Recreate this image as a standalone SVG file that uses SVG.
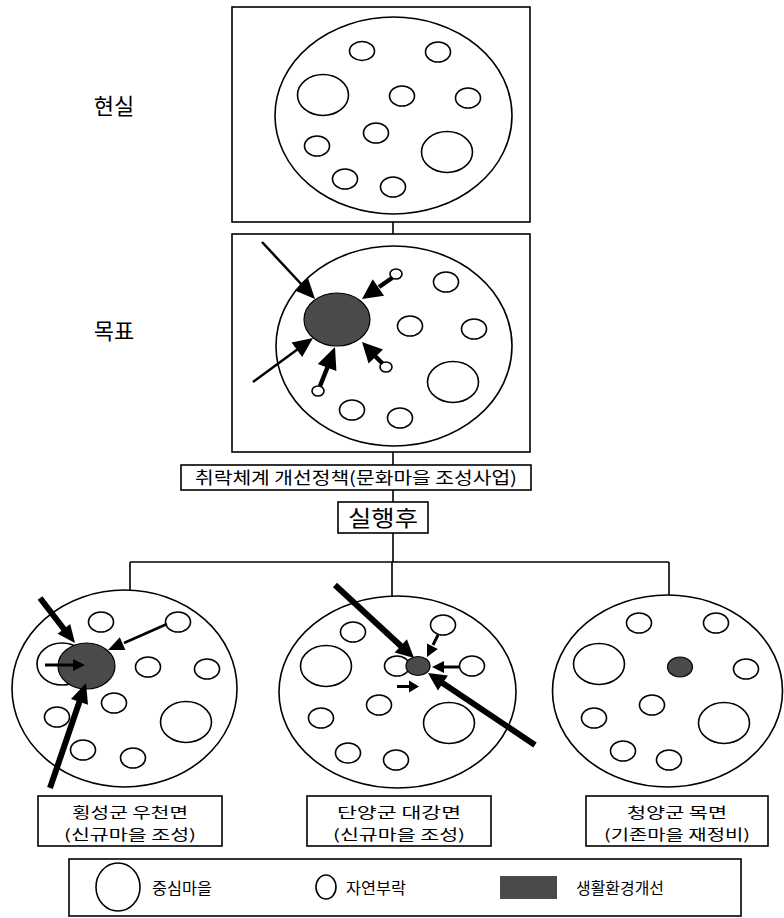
<svg xmlns="http://www.w3.org/2000/svg" width="784" height="918" viewBox="0 0 784 918">
<style>
  .frame{fill:none;stroke:#000;stroke-width:1.6}
  .big{fill:#fff;stroke:#000;stroke-width:1.6}
  .c{fill:#fff;stroke:#000;stroke-width:1.6}
  .dark{fill:#4a4a4a;stroke:#000;stroke-width:1.2}
  .ln{stroke:#000;stroke-width:1.6;fill:none}
  .thin{stroke:#000;stroke-width:2.5;fill:none}
  .med{stroke:#000;stroke-width:3;fill:none}
  .mthick{stroke:#000;stroke-width:4.5;fill:none}
  .thick{stroke:#000;stroke-width:6;fill:none}
  .head{fill:#000}
  text{font-family:"Noto Sans CJK KR","Noto Sans",sans-serif;fill:#000}
  .side{font-size:22px;text-anchor:middle}
  .lab{font-size:17px;text-anchor:middle}
  .lab2{font-size:14.5px;text-anchor:middle}
  .leg{font-size:16px}
</style>
<rect width="784" height="918" fill="#fff"/>

<g id="connectors">
  <line class="ln" x1="393" y1="222" x2="393" y2="234"/>
  <line class="ln" x1="393" y1="452" x2="393" y2="465"/>
  <line class="ln" x1="393" y1="490" x2="393" y2="502"/>
  <line class="ln" x1="393" y1="533" x2="393" y2="562"/>
  <line class="ln" x1="130" y1="562" x2="669" y2="562"/>
  <line class="ln" x1="130" y1="562" x2="130" y2="590"/>
  <line class="ln" x1="392" y1="562" x2="392" y2="596"/>
  <line class="ln" x1="669" y1="562" x2="669" y2="595"/>
</g>

<g id="label-reality"><text class="side" x="114" y="114">현실</text></g>
<g id="label-goal"><text class="side" x="114" y="339">목표</text></g>

<g id="reality">
  <rect class="frame" x="232" y="7" width="298" height="215"/>
  <ellipse class="big" cx="393.5" cy="115.5" rx="118.5" ry="98.5"/>
  <ellipse class="c" cx="362" cy="51" rx="12.5" ry="9.5"/>
  <ellipse class="c" cx="438" cy="52" rx="12.5" ry="10"/>
  <ellipse class="c" cx="323" cy="95" rx="25.5" ry="20.5"/>
  <ellipse class="c" cx="402" cy="96" rx="12.5" ry="10"/>
  <ellipse class="c" cx="468" cy="98" rx="12.5" ry="10"/>
  <ellipse class="c" cx="376" cy="133" rx="12.5" ry="10"/>
  <ellipse class="c" cx="317" cy="146" rx="12.5" ry="10"/>
  <ellipse class="c" cx="447" cy="152" rx="25.5" ry="20.5"/>
  <ellipse class="c" cx="345" cy="179" rx="12.5" ry="10"/>
  <ellipse class="c" cx="393" cy="187" rx="12.5" ry="10"/>
</g>

<g id="goal">
  <rect class="frame" x="232" y="234" width="298" height="218"/>
  <ellipse class="big" cx="394" cy="346" rx="118" ry="100"/>
  <ellipse class="c" cx="446" cy="282" rx="12.5" ry="10"/>
  <ellipse class="c" cx="410" cy="326" rx="12.5" ry="10"/>
  <ellipse class="c" cx="474" cy="329" rx="12.5" ry="10"/>
  <ellipse class="c" cx="453" cy="382" rx="25.5" ry="20.5"/>
  <ellipse class="c" cx="352" cy="410" rx="12.5" ry="10"/>
  <ellipse class="c" cx="400" cy="418" rx="12.5" ry="10"/>
  <ellipse class="dark" cx="337" cy="319.5" rx="33" ry="26.5"/>
  <line class="thin" x1="262" y1="242" x2="303" y2="286"/>
  <polygon class="head" points="315,299 294.8,290.4 308,278.2"/>
  <line class="thin" x1="253" y1="382" x2="298" y2="349"/>
  <polygon class="head" points="313,338 302.2,357.1 291.6,342.5"/>
  <line class="mthick" x1="392" y1="278" x2="379" y2="287"/>
  <polygon class="head" points="362,299 372.7,279.3 384.1,295.7"/>
  <line class="mthick" x1="383" y1="364" x2="375" y2="356"/>
  <polygon class="head" points="362,342 383,349.6 368.6,363.4"/>
  <line class="mthick" x1="320" y1="386" x2="328" y2="366"/>
  <polygon class="head" points="335,347 336.4,371.1 317.8,363.9"/>
  <ellipse class="c" cx="396" cy="274" rx="6" ry="5"/>
  <ellipse class="c" cx="386" cy="367" rx="6" ry="5"/>
  <ellipse class="c" cx="318" cy="391" rx="6" ry="5"/>
</g>

<g id="policy">
  <rect class="frame" x="181" y="465" width="350" height="25"/>
  <text class="lab" x="356" y="484" textLength="322" lengthAdjust="spacingAndGlyphs">취락체계 개선정책(문화마을 조성사업)</text>
</g>

<g id="after">
  <rect class="frame" x="338" y="502" width="90" height="31"/>
  <text x="383" y="526" font-size="22" text-anchor="middle" textLength="70" lengthAdjust="spacingAndGlyphs">실행후</text>
</g>

<g id="hoengseong">
  <ellipse class="big" cx="124.5" cy="688.5" rx="112.5" ry="98.5"/>
  <ellipse class="c" cx="101" cy="622" rx="12.5" ry="10"/>
  <ellipse class="c" cx="178" cy="622" rx="12.5" ry="10"/>
  <ellipse class="c" cx="148" cy="667" rx="12.5" ry="10"/>
  <ellipse class="c" cx="207" cy="669" rx="12.5" ry="10"/>
  <ellipse class="c" cx="114" cy="703" rx="12.5" ry="10"/>
  <ellipse class="c" cx="57" cy="717" rx="12.5" ry="10"/>
  <ellipse class="c" cx="186" cy="722" rx="25.5" ry="20.5"/>
  <ellipse class="c" cx="83" cy="750" rx="12.5" ry="10"/>
  <ellipse class="c" cx="133" cy="758" rx="12.5" ry="10"/>
  <ellipse class="c" cx="62" cy="664" rx="25" ry="21"/>
  <ellipse class="dark" cx="86.5" cy="666" rx="28.5" ry="23"/>
  <line class="thick" x1="40" y1="598" x2="65" y2="630.5"/>
  <polygon class="head" points="75,643 57.6,633.7 70.2,623.9"/>
  <line class="thin" x1="167" y1="624" x2="124" y2="643"/>
  <polygon class="head" points="108,650 119.8,637.2 125.4,650"/>
  <line class="med" x1="45" y1="665" x2="74" y2="665"/>
  <polygon class="head" points="85,665 73,659 73,671"/>
  <line class="thick" x1="50" y1="788" x2="80" y2="700"/>
  <polygon class="head" points="86,683 88,704.8 71,699"/>
  <rect class="frame" x="38" y="796" width="184" height="50"/>
  <text class="lab2" x="130" y="818" textLength="116" lengthAdjust="spacingAndGlyphs">횡성군 우천면</text>
  <text class="lab2" x="130" y="840" textLength="132" lengthAdjust="spacingAndGlyphs">(신규마을 조성)</text>
</g>

<g id="danyang">
  <ellipse class="big" cx="397.5" cy="692" rx="118.5" ry="96"/>
  <ellipse class="c" cx="353" cy="632" rx="12.5" ry="10"/>
  <ellipse class="c" cx="326" cy="666" rx="25.5" ry="20.5"/>
  <ellipse class="c" cx="443" cy="625" rx="12.5" ry="10"/>
  <ellipse class="c" cx="472" cy="666" rx="12.5" ry="10"/>
  <ellipse class="c" cx="397" cy="666" rx="12.5" ry="10"/>
  <ellipse class="c" cx="379" cy="705" rx="12.5" ry="10"/>
  <ellipse class="c" cx="321" cy="718" rx="12.5" ry="10"/>
  <ellipse class="c" cx="449" cy="723" rx="25.5" ry="20.5"/>
  <ellipse class="c" cx="348" cy="753" rx="12.5" ry="10"/>
  <ellipse class="c" cx="396" cy="760" rx="12.5" ry="10"/>
  <ellipse class="dark" cx="418" cy="666" rx="12" ry="9.5"/>
  <line class="thick" x1="335" y1="585" x2="402" y2="647"/>
  <polygon class="head" points="414,658 394.7,652.4 406.9,639.2"/>
  <line class="thick" x1="535" y1="745" x2="441" y2="682"/>
  <polygon class="head" points="428,673 447.9,675.5 437.9,690.5"/>
  <line class="med" x1="438" y1="635" x2="433" y2="645"/>
  <polygon class="head" points="427,657 427,643.6 437.8,649"/>
  <line class="med" x1="459" y1="667" x2="443" y2="667"/>
  <polygon class="head" points="432,667 444,661 444,673"/>
  <line class="med" x1="397" y1="686.5" x2="410" y2="686.5"/>
  <polygon class="head" points="419,686.5 409,680.5 409,692.5"/>
  <rect class="frame" x="307" y="796" width="184" height="50"/>
  <text class="lab2" x="399" y="818" textLength="124" lengthAdjust="spacingAndGlyphs">단양군 대강면</text>
  <text class="lab2" x="399" y="840" textLength="132" lengthAdjust="spacingAndGlyphs">(신규마을 조성)</text>
</g>

<g id="cheongyang">
  <ellipse class="big" cx="667.5" cy="691" rx="115" ry="96"/>
  <ellipse class="c" cx="639" cy="623" rx="12.5" ry="10"/>
  <ellipse class="c" cx="716" cy="623" rx="12.5" ry="10"/>
  <ellipse class="c" cx="599" cy="664" rx="25.5" ry="20.5"/>
  <ellipse class="c" cx="746" cy="669" rx="12.5" ry="10"/>
  <ellipse class="c" cx="652" cy="705" rx="12.5" ry="10"/>
  <ellipse class="c" cx="594" cy="718" rx="12.5" ry="10"/>
  <ellipse class="c" cx="724" cy="723" rx="25.5" ry="20.5"/>
  <ellipse class="c" cx="623" cy="751" rx="12.5" ry="10"/>
  <ellipse class="c" cx="669" cy="760" rx="12.5" ry="10"/>
  <ellipse class="dark" cx="680" cy="667" rx="12.5" ry="10"/>
  <rect class="frame" x="586" y="796" width="182" height="50"/>
  <text class="lab2" x="677" y="818" textLength="100" lengthAdjust="spacingAndGlyphs">청양군 목면</text>
  <text class="lab2" x="677" y="840" textLength="146" lengthAdjust="spacingAndGlyphs">(기존마을 재정비)</text>
</g>

<g id="legend">
  <rect class="frame" x="69" y="859" width="672" height="57"/>
  <ellipse class="c" cx="118" cy="887" rx="22" ry="24"/>
  <text class="leg" x="152" y="894" textLength="60" lengthAdjust="spacingAndGlyphs">중심마을</text>
  <ellipse class="c" cx="326" cy="887" rx="10" ry="12"/>
  <text class="leg" x="346" y="894" textLength="60" lengthAdjust="spacingAndGlyphs">자연부락</text>
  <rect x="500" y="876" width="57" height="23" fill="#4a4a4a"/>
  <text class="leg" x="576" y="894" textLength="88" lengthAdjust="spacingAndGlyphs">생활환경개선</text>
</g>
</svg>
